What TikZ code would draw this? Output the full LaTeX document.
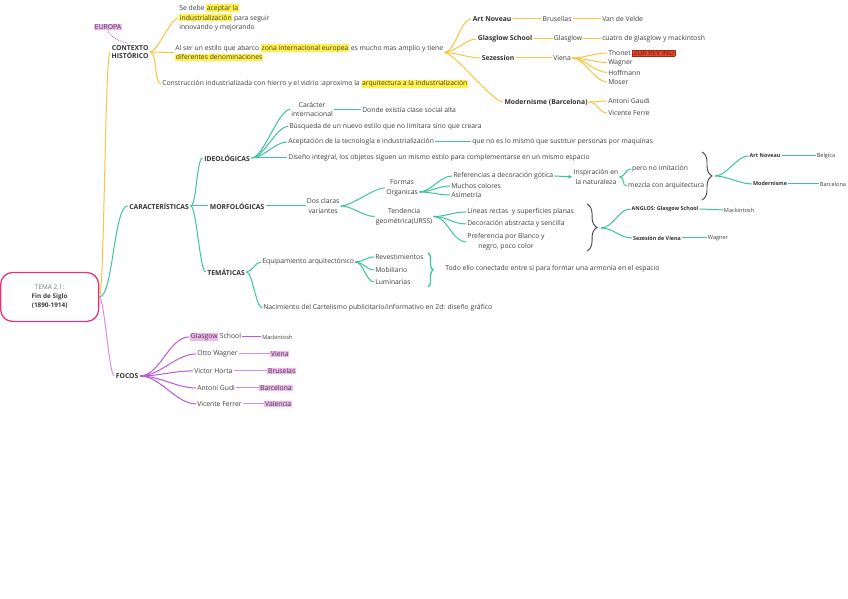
\documentclass[tikz,border=0pt]{standalone}
\usepackage{fontspec}
\setmainfont{Open Sans}
\usepackage{xcolor}
\usetikzlibrary{positioning,arrows.meta,calc,decorations.pathreplacing}
\definecolor{ink}{HTML}{3E3E3E}
\definecolor{soft}{HTML}{7A7A7A}
\definecolor{ora}{HTML}{F9C542}
\definecolor{tealc}{HTML}{3CC3A0}
\definecolor{purp}{HTML}{B957DE}
\definecolor{purpL}{HTML}{D58CF0}
\definecolor{hlyel}{HTML}{FFF14A}
\definecolor{hlpink}{HTML}{F1B6EE}
\definecolor{revred}{HTML}{E8482C}
\definecolor{revdk}{HTML}{A02A18}
\definecolor{rootc}{HTML}{E0357D}
\definecolor{brk}{HTML}{444444}

\newcommand{\hly}[1]{{\setlength{\fboxsep}{0.6pt}\colorbox{hlyel}{#1}}}
\newcommand{\hlp}[1]{{\setlength{\fboxsep}{0.6pt}\colorbox{hlpink}{#1}}}
\newcommand{\revbox}[1]{{\setlength{\fboxsep}{0.6pt}\fcolorbox{revdk}{revred}{\color{revdk!60!black}#1}}}

\tikzset{
  txt/.style={font=\fontsize{6.8}{9.8}\selectfont, text=ink, inner sep=1pt},
  hd/.style={font=\fontsize{6.8}{8.8}\selectfont\bfseries, text=ink!80!black, inner sep=1.5pt},
  sm/.style={font=\fontsize{5.6}{6.5}\selectfont\upshape, text=ink, inner sep=1pt},
  smhd/.style={font=\fontsize{5.4}{6.5}\selectfont\bfseries, text=ink!80!black, inner sep=1pt},
  hlnode/.style={txt, fill=hlpink, inner sep=0.8pt},
  orl/.style={draw=ora, line width=1pt},
  tel/.style={draw=tealc, line width=1pt},
  pul/.style={draw=purp, line width=1pt},
  pulL/.style={draw=purpL, line width=1pt},
  curv/.style={out=0, in=180, distance=#1},
  bracer/.style={draw=brk, line width=0.9pt, decorate, decoration={brace, amplitude=#1}}
}

\begin{document}
\begin{tikzpicture}[x=1pt, y=-1pt]
\fill[white] (0,0) rectangle (848,599);

\node[draw=rootc, line width=1.3pt, rounded corners=12pt, minimum width=98pt, minimum height=49pt,
      align=center, font=\fontsize{6.4}{8.8}\selectfont, text=ink] (root) at (49.5,297)
  {\textcolor{soft}{TEMA 2.1:}\\\textbf{Fin de Siglo}\\\textbf{(1890-1914)}};

% contexto historico
\node[txt, fill=hlpink, inner sep=0.8pt] (eur) at (108,27) {EUROPA};
\node[hd, align=center] (ctx) at (130,52) {CONTEXTO\\HISTÓRICO};
\node[txt, align=left, anchor=west] (se) at (178,18)
  {Se debe \hly{aceptar la}\\\hly{industrialización} para seguir\\innovando y mejorando};
\node[txt, align=left, anchor=west] (alser) at (174,52.5)
  {Al ser un estilo que abarco \hly{zona internacional europea} es mucho mas amplio y tiene\\\hly{diferentes denominaciones}};
\node[txt, anchor=west] (constr) at (161,84)
  {Construcción industrializada con hierro y el vidrio :aproximo la \hly{arquitectura a la industrialización}};

\node[hd] (artn) at (492,19) {Art Noveau};
\node[txt] (brus) at (557,19) {Brusellas};
\node[txt, anchor=west] (vdv) at (601,19) {Van de Velde};
\node[hd] (glsc) at (505,39) {Glasglow School};
\node[txt] (glas) at (568,39) {Glasglow};
\node[txt, anchor=west] (cuatro) at (601,39) {cuatro de glasglow y mackintosh};
\node[hd] (sez) at (498,58) {Sezession};
\node[txt] (vie) at (562,58) {Viena};
\node[txt, anchor=west] (thonet) at (607,53) {Thonet \revbox{2DA REV IND}};
\node[txt, anchor=west] (wagA) at (607,62.5) {Wagner};
\node[txt, anchor=west] (hoff) at (607,72.5) {Hoffmann};
\node[txt, anchor=west] (moser) at (607,82) {Moser};
\node[hd] (modb) at (546,102) {Modernisme (Barcelona)};
\node[txt, anchor=west] (gaudi) at (607,101) {Antoni Gaudi};
\node[txt, anchor=west] (ferre) at (607,113) {Vicente Ferre};

% caracteristicas
\node[hd] (car) at (159,206) {CARACTERÍSTICAS};
\node[hd] (ide) at (227,158) {IDEOLÓGICAS};
\node[hd] (morf) at (237,206) {MORFOLÓGICAS};
\node[hd] (tem) at (226,272) {TEMÁTICAS};

\node[txt, align=center] (carint) at (312,109.5) {Carácter\\internacional};
\node[txt, anchor=west] (donde) at (361,109.5) {Donde existía clase social alta};
\node[txt, anchor=west] (busq) at (288,126.5) {Búsqueda de un nuevo estilo que no limitara sino que creara};
\node[txt, anchor=west] (acep) at (287,142) {Aceptación de la tecnología e industrialización};
\node[txt, anchor=west] (queno) at (471,142) {que no es lo mismo que sustituir personas por maquinas};
\node[txt, anchor=west] (dise) at (287,158) {Diseño integral, los objetos siguen un mismo estilo para complementarse en un mismo espacio};

\node[txt, align=center] (dos) at (323,206) {Dos claras\\variantes};
\node[txt, align=center] (formas) at (402,188) {Formas\\Organicas};
\node[txt, align=center] (tend) at (404,216.5) {Tendencia\\geométrica(URSS)};
\node[txt, anchor=west] (refg) at (452,176) {Referencias a decoración gótica};
\node[txt, anchor=west] (much) at (450,186) {Muchos colores};
\node[txt, anchor=west] (asim) at (450,195) {Asimetría};
\node[txt, align=center] (insp) at (596,177) {Inspiración en\\la naturaleza};
\node[txt, anchor=west] (pero) at (631,169) {pero no imitación};
\node[txt, anchor=west] (mezc) at (627,186) {mezcla con arquitectura};
\node[smhd] (artnB) at (765,156) {Art Noveau};
\node[sm] (belg) at (826,156) {Bélgica};
\node[smhd] (modn) at (770,184) {Modernisme};
\node[sm] (barcA) at (833,184) {Barcelona};

\node[txt, anchor=west] (lin) at (466,212) {Líneas rectas\ \ y superficies planas};
\node[txt, anchor=west] (deco) at (466,224) {Decoración abstracta y sencilla};
\node[txt, align=center] (pref) at (506,242) {Preferencia por Blanco y\\negro, poco color};
\node[smhd] (angl) at (665,209) {ANGLOS: Glasgow School};
\node[sm] (mackA) at (739,210) {Mackintosh};
\node[smhd] (sezv) at (657,238) {Sezesión de Viena};
\node[sm] (wagB) at (718,238) {Wagner};

\node[txt, anchor=west] (equi) at (261,262) {Equipamiento arquitectónico};
\node[txt, anchor=west] (rev) at (374,257) {Revestimientos};
\node[txt, anchor=west] (mob) at (374,270) {Mobiliario};
\node[txt, anchor=west] (lum) at (374,282) {Luminarias};
\node[txt, anchor=west] (todo) at (444,269) {Todo ello conectado entre si para formar una armonía en el espacio};
\node[txt, anchor=west] (nac) at (262,308) {Nacimiento del Cartelismo publicitario/informativo en 2d: diseño gráfico};

\coordinate (b1t) at (702,152);
\coordinate (b1b) at (702,200);
\coordinate (b1m) at (715,176);
\coordinate (b2t) at (587,204);
\coordinate (b2b) at (587,251);
\coordinate (b2m) at (601,228);
\coordinate (b3t) at (428,253);
\coordinate (b3b) at (428,287);

% focos
\node[hd] (focos) at (127,376) {FOCOS};
\node[txt, anchor=west] (gsch) at (189,337) {\hlp{Glasgow} School};
\node[sm, anchor=west] (mackB) at (261,337) {Mackintosh};
\node[txt, anchor=west] (otto) at (196,354) {Otto Wagner};
\node[hlnode, anchor=west] (vieB) at (270,354) {Viena};
\node[txt, anchor=west] (vict) at (193,371) {Victor Horta};
\node[hlnode, anchor=west] (brusB) at (267,371) {Bruselas};
\node[txt, anchor=west] (anto) at (196,388) {Antoni Gudi};
\node[hlnode, anchor=west] (barcB) at (259,388) {Barcelona};
\node[txt, anchor=west] (vice) at (196,404) {Vicente Ferrer};
\node[hlnode, anchor=west] (val) at (264,404) {Valencia};

% orange
\draw[purp, line width=0.8pt, densely dotted] (eur.south) .. controls +(1,6) and +(-8,0) .. (ctx.north);
\draw[orl] (root.east) to[curv=5pt] (ctx.west);
\foreach \n in {se,alser,constr} \draw[orl] (ctx.east) to[curv=7pt] (\n.west);
\foreach \n in {artn,glsc,sez,modb} \draw[orl] (alser.east) to[curv=10pt] (\n.west);
\draw[orl] (artn.east) -- (brus.west);
\draw[orl] (brus.east) -- (vdv.west);
\draw[orl] (glsc.east) -- (glas.west);
\draw[orl] (glas.east) -- (cuatro.west);
\draw[orl] (sez.east) -- (vie.west);
\foreach \n in {thonet,wagA,hoff,moser} \draw[orl] (vie.east) to[curv=12pt] (\n.west);
\foreach \n in {gaudi,ferre} \draw[orl] (modb.east) to[curv=8pt] (\n.west);

% teal
\draw[tel] (root.east) to[curv=14pt] (car.west);
\foreach \n in {ide,morf,tem} \draw[tel] (car.east) to[curv=6pt] (\n.west);
\foreach \n in {carint,busq,acep,dise} \draw[tel] (ide.east) to[curv=12pt] (\n.west);
\draw[tel] (carint.east) -- (donde.west);
\draw[tel] (acep.east) -- (queno.west);
\draw[tel] (morf.east) -- (dos.west);
\foreach \n in {formas,tend} \draw[tel] (dos.east) to[curv=12pt] (\n.west);
\foreach \n in {refg,much,asim} \draw[tel] ($(formas.east)+(0,4)$) to[curv=12pt] (\n.west);
\draw[tel, -{Latex[length=4pt,width=4pt]}] (refg.east) -- (insp.west);
\foreach \n in {pero,mezc} \draw[tel] (insp.east) to[curv=6pt] (\n.west);
\draw[bracer=10pt] (b1t) -- (b1b);
\foreach \n in {artnB,modn} \draw[tel] (b1m) to[curv=12pt] (\n.west);
\draw[tel] (artnB.east) -- (belg.west);
\draw[tel] (modn.east) -- (barcA.west);
\foreach \n in {lin,deco,pref} \draw[tel] (tend.east) to[curv=14pt] (\n.west);
\draw[bracer=10pt] (b2t) -- (b2b);
\foreach \n in {angl,sezv} \draw[tel] (b2m) to[curv=12pt] (\n.west);
\draw[tel] (angl.east) -- (mackA.west);
\draw[tel] (sezv.east) -- (wagB.west);
\foreach \n in {equi,nac} \draw[tel] (tem.east) to[curv=6pt] (\n.west);
\foreach \n in {rev,mob,lum} \draw[tel] (equi.east) to[curv=8pt] (\n.west);
\draw[draw=tealc, line width=1.3pt, decorate, decoration={brace, amplitude=5pt}] (b3t) -- (b3b);

% purple
\draw[pulL] (root.east) to[curv=5pt] (focos.west);
\foreach \n in {gsch,otto,vict,anto,vice} \draw[pul] (focos.east) to[curv=20pt] (\n.west);
\draw[pul] (gsch.east) -- (mackB.west);
\draw[pulL] (otto.east) -- (vieB.west);
\draw[pulL] (vict.east) -- (brusB.west);
\draw[pulL] (anto.east) -- (barcB.west);
\draw[pulL] (vice.east) -- (val.west);
\end{tikzpicture}
\end{document}
